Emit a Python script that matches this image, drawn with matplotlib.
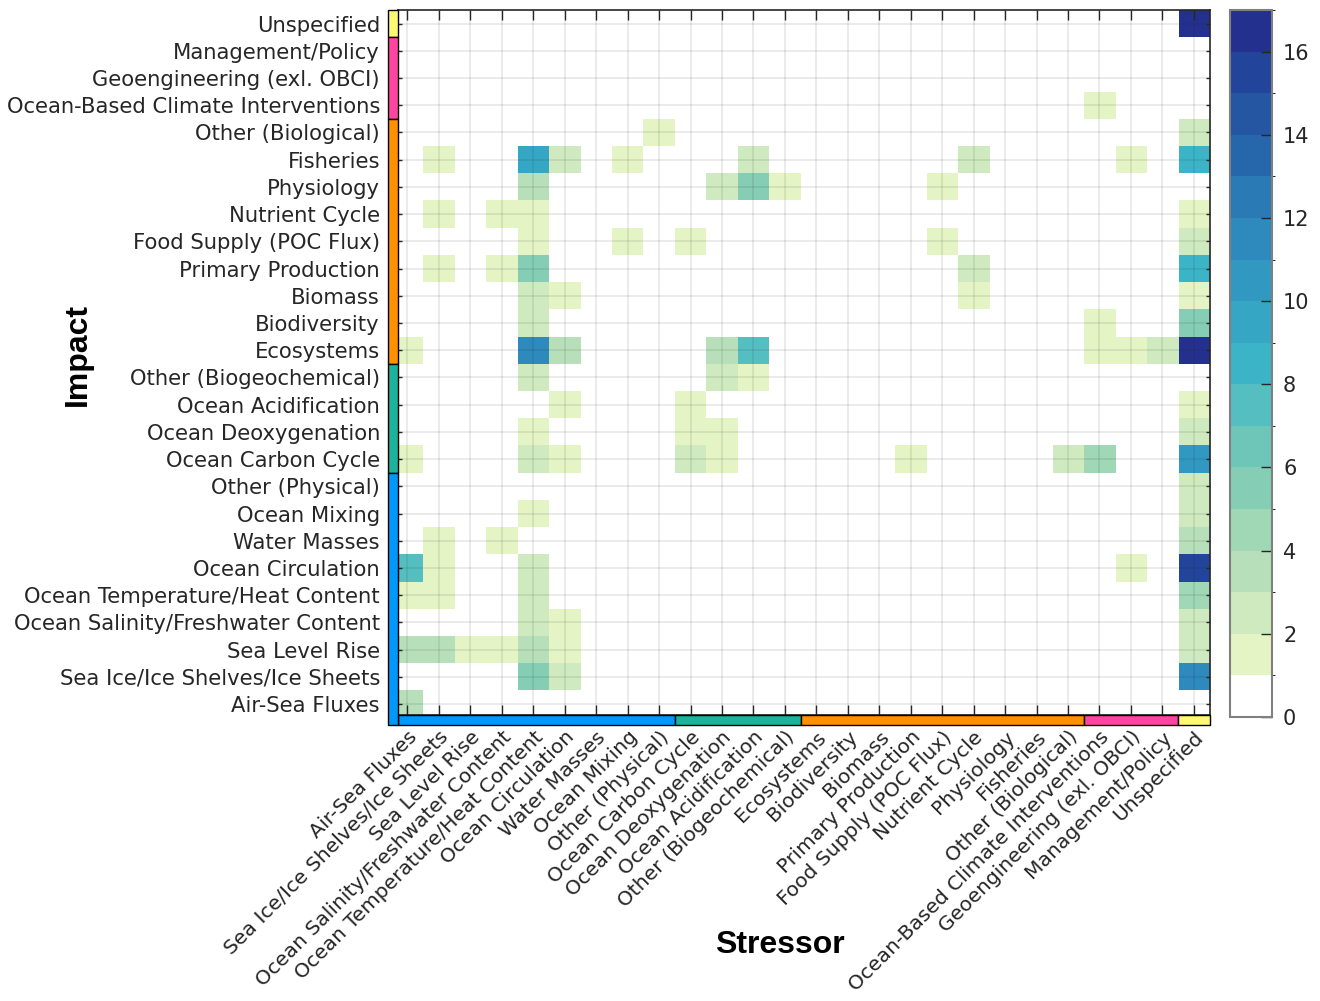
import matplotlib
matplotlib.use("Agg")
import matplotlib.pyplot as plt
import numpy as np
from matplotlib.colors import ListedColormap, BoundaryNorm
from matplotlib.patches import Rectangle
import matplotlib.transforms as mtransforms

categories = [
    "Air-Sea Fluxes", "Sea Ice/Ice Shelves/Ice Sheets", "Sea Level Rise",
    "Ocean Salinity/Freshwater Content", "Ocean Temperature/Heat Content",
    "Ocean Circulation", "Water Masses", "Ocean Mixing", "Other (Physical)",
    "Ocean Carbon Cycle", "Ocean Deoxygenation", "Ocean Acidification",
    "Other (Biogeochemical)", "Ecosystems", "Biodiversity", "Biomass",
    "Primary Production", "Food Supply (POC Flux)", "Nutrient Cycle",
    "Physiology", "Fisheries", "Other (Biological)",
    "Ocean-Based Climate Interventions", "Geoengineering (exl. OBCI)",
    "Management/Policy", "Unspecified",
]

# group sizes along the category order (physical, biogeochemical, biological, interventions, unspecified)
group_sizes = [9, 4, 9, 3, 1]
group_colors = ["#0098fb", "#1cb29b", "#ff9100", "#ff45a1", "#fff873"]

# rows = impact (top: Unspecified ... bottom: Air-Sea Fluxes), columns = stressor
impact_rows = categories[::-1]
counts = [
    # Unspecified
    [0]*25 + [16],
    # Management/Policy
    [0]*26,
    # Geoengineering (exl. OBCI)
    [0]*26,
    # Ocean-Based Climate Interventions
    [0]*22 + [1, 0, 0, 0],
    # Other (Biological)
    [0, 0, 0, 0, 0, 0, 0, 0, 1, 0, 0, 0, 0, 0, 0, 0, 0, 0, 0, 0, 0, 0, 0, 0, 0, 2],
    # Fisheries
    [0, 1, 0, 0, 9, 2, 0, 1, 0, 0, 0, 2, 0, 0, 0, 0, 0, 0, 2, 0, 0, 0, 0, 1, 0, 8],
    # Physiology
    [0, 0, 0, 0, 3, 0, 0, 0, 0, 0, 2, 5, 1, 0, 0, 0, 0, 1, 0, 0, 0, 0, 0, 0, 0, 0],
    # Nutrient Cycle
    [0, 1, 0, 1, 1, 0, 0, 0, 0, 0, 0, 0, 0, 0, 0, 0, 0, 0, 0, 0, 0, 0, 0, 0, 0, 1],
    # Food Supply (POC Flux)
    [0, 0, 0, 0, 1, 0, 0, 1, 0, 1, 0, 0, 0, 0, 0, 0, 0, 1, 0, 0, 0, 0, 0, 0, 0, 2],
    # Primary Production
    [0, 1, 0, 1, 5, 0, 0, 0, 0, 0, 0, 0, 0, 0, 0, 0, 0, 0, 2, 0, 0, 0, 0, 0, 0, 8],
    # Biomass
    [0, 0, 0, 0, 2, 1, 0, 0, 0, 0, 0, 0, 0, 0, 0, 0, 0, 0, 1, 0, 0, 0, 0, 0, 0, 1],
    # Biodiversity
    [0, 0, 0, 0, 2, 0, 0, 0, 0, 0, 0, 0, 0, 0, 0, 0, 0, 0, 0, 0, 0, 0, 1, 0, 0, 5],
    # Ecosystems
    [1, 0, 0, 0, 11, 3, 0, 0, 0, 0, 3, 7, 0, 0, 0, 0, 0, 0, 0, 0, 0, 0, 1, 1, 2, 16],
    # Other (Biogeochemical)
    [0, 0, 0, 0, 2, 0, 0, 0, 0, 0, 2, 1, 0, 0, 0, 0, 0, 0, 0, 0, 0, 0, 0, 0, 0, 0],
    # Ocean Acidification
    [0, 0, 0, 0, 0, 1, 0, 0, 0, 1, 0, 0, 0, 0, 0, 0, 0, 0, 0, 0, 0, 0, 0, 0, 0, 1],
    # Ocean Deoxygenation
    [0, 0, 0, 0, 1, 0, 0, 0, 0, 1, 1, 0, 0, 0, 0, 0, 0, 0, 0, 0, 0, 0, 0, 0, 0, 2],
    # Ocean Carbon Cycle
    [1, 0, 0, 0, 2, 1, 0, 0, 0, 2, 1, 0, 0, 0, 0, 0, 1, 0, 0, 0, 0, 2, 4, 0, 0, 10],
    # Other (Physical)
    [0]*25 + [2],
    # Ocean Mixing
    [0, 0, 0, 0, 1, 0, 0, 0, 0, 0, 0, 0, 0, 0, 0, 0, 0, 0, 0, 0, 0, 0, 0, 0, 0, 2],
    # Water Masses
    [0, 1, 0, 1, 0, 0, 0, 0, 0, 0, 0, 0, 0, 0, 0, 0, 0, 0, 0, 0, 0, 0, 0, 0, 0, 3],
    # Ocean Circulation
    [7, 1, 0, 0, 2, 0, 0, 0, 0, 0, 0, 0, 0, 0, 0, 0, 0, 0, 0, 0, 0, 0, 0, 1, 0, 15],
    # Ocean Temperature/Heat Content
    [1, 1, 0, 0, 2, 0, 0, 0, 0, 0, 0, 0, 0, 0, 0, 0, 0, 0, 0, 0, 0, 0, 0, 0, 0, 4],
    # Ocean Salinity/Freshwater Content
    [0, 0, 0, 0, 2, 1, 0, 0, 0, 0, 0, 0, 0, 0, 0, 0, 0, 0, 0, 0, 0, 0, 0, 0, 0, 2],
    # Sea Level Rise
    [3, 3, 1, 1, 3, 1, 0, 0, 0, 0, 0, 0, 0, 0, 0, 0, 0, 0, 0, 0, 0, 0, 0, 0, 0, 2],
    # Sea Ice/Ice Shelves/Ice Sheets
    [0, 0, 0, 0, 5, 2, 0, 0, 0, 0, 0, 0, 0, 0, 0, 0, 0, 0, 0, 0, 0, 0, 0, 0, 0, 11],
    # Air-Sea Fluxes
    [3] + [0]*25,
]

level_colors = ["#ffffff", "#e5f4c5", "#d0eac0", "#b7e0ba", "#a0d8b6", "#85cdb4",
                "#6dc6b8", "#55bec1", "#3ab4c6", "#35a6c3", "#3199c1", "#2e8abc",
                "#2a7ab5", "#2666aa", "#2456a2", "#22449a", "#23308d"]
cmap = ListedColormap(level_colors)
norm = BoundaryNorm(np.arange(18), cmap.N)

txt = "#262626"
plt.rcParams["font.family"] = ["DejaVu Sans"]

fig = plt.figure(figsize=(13.2, 10.01), dpi=100)
ax = fig.add_axes([398/1320, 1-715/1001, (1209.5-398)/1320, (715-10)/1001])
data = np.array(counts)
im = ax.imshow(data, cmap=cmap, norm=norm, aspect="auto", interpolation="nearest")
ax.set_xlim(-0.3, 25.5)
ax.set_ylim(25.4, -0.5)

n = len(categories)
ax.set_xticks(range(n))
ax.set_yticks(range(n))
ax.set_yticklabels(impact_rows, fontsize=15.2, color=txt)
ax.set_xticklabels(categories, fontsize=14.6, color=txt, rotation=45,
                   ha="right", va="top", rotation_mode="anchor")
offset = mtransforms.ScaledTranslation(0.13, 0, fig.dpi_scale_trans)
for lab in ax.get_xticklabels():
    lab.set_transform(lab.get_transform() + offset)

ax.tick_params(axis="both", direction="in", top=True, right=True, color=txt, width=1)
ax.tick_params(axis="y", length=3, pad=13)
ax.tick_params(axis="x", length=7, pad=9)
ax.set_axisbelow(False)
ax.grid(True, color=txt, alpha=0.11, lw=1.2)
for sp in ax.spines.values():
    sp.set_color(txt)
    sp.set_linewidth(1.2)

# category colour bars along the axes
bar_w = 10 / ((1209.5-398)/25.8)
bar_h = 0.35
start = 0
for size, col in zip(group_sizes, group_colors):
    x0 = max(start - 0.5, -0.3)
    x1 = start + size - 0.5
    ax.add_patch(Rectangle((x0, 25.4), x1 - x0, bar_h, facecolor=col,
                           edgecolor="black", lw=1, clip_on=False, zorder=5))
    start += size

start = 0
for size, col in zip(group_sizes[::-1], group_colors[::-1]):
    y0 = start - 0.5
    y1 = start + size - 0.5
    if start + size == n:
        y1 = 25.4 + bar_h
    ax.add_patch(Rectangle((-0.3 - bar_w, y0), bar_w, y1 - y0, facecolor=col,
                           edgecolor="black", lw=1, clip_on=False, zorder=5))
    start += size

cax = fig.add_axes([1230/1320, 1-717/1001, 42/1320, (717-10)/1001])
cb = fig.colorbar(im, cax=cax, ticks=range(0, 17, 2))
cb.outline.set_edgecolor("#808080")
cb.outline.set_linewidth(1.5)
cax.tick_params(direction="in", length=8, color=txt, labelsize=15,
                labelcolor=txt, width=1, pad=8)

fig.text(780/1320, 1-945/1001, "Stressor", ha="center", va="center",
         fontsize=23, fontweight="bold", family="Liberation Sans")
fig.text(78/1320, 1-355/1001, "Impact", ha="center", va="center", rotation=90,
         fontsize=23, fontweight="bold", family="Liberation Sans")

fig.savefig("out.png", dpi=100)
